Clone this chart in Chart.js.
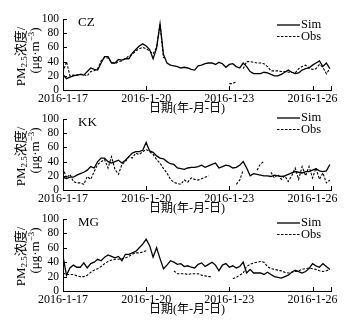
<!DOCTYPE html>
<html>
<head>
<meta charset="utf-8">
<script src="https://cdn.jsdelivr.net/npm/chart.js@4.4.1/dist/chart.umd.min.js"></script>
<style>
    html, body { margin: 0; padding: 0; background: #fff; }
    #wrap { position: relative; width: 348px; height: 322px; overflow: hidden; }
    .panel { position: absolute; left: 0; width: 348px; height: 122px; }
</style>
</head>
<body>
<div id="wrap">
    <div class="panel" style="top:0"><canvas id="chart0" width="348" height="122"></canvas></div>
    <div class="panel" style="top:100px"><canvas id="chart1" width="348" height="122"></canvas></div>
    <div class="panel" style="top:200px"><canvas id="chart2" width="348" height="122"></canvas></div>
</div>
<script>
// hours since 2016-1-17 00:00
const hours = [0, 3, 6, 9, 12, 15, 18, 21, 24, 27, 30, 33,
    36, 39, 42, 45, 48, 51, 54, 57, 60, 63, 66, 69,
    72, 75, 78, 81, 84, 87, 90, 93, 96, 99, 102, 105,
    108, 111, 114, 117, 120, 123, 126, 129, 132, 135, 138, 141,
    144, 147, 150, 153, 156, 159, 162, 165, 168, 171, 174, 177,
    180, 183, 186, 189, 192, 195, 198, 201, 204, 207, 210, 213,
    216, 219, 222, 225, 228, 231];

const tickHours = [0, 72, 144, 216];
const tickLabels = ['2016-1-17', '2016-1-20', '2016-1-23', '2016-1-26'];
const yTicks = [0, 20, 40, 60, 80, 100];
const stations = ['CZ', 'KK', 'MG'];
const seriesNames = ['Sim', 'Obs'];

const czSim = [22, 16, 18, 20, 21, 22, 21, 26, 31, 29, 28, 38,
    47, 47, 38, 38, 43, 42, 44, 44, 52, 57, 62, 65,
    62, 57, 44, 59, 93, 50, 38, 35, 34, 33, 31, 32,
    31, 29, 28, 34, 35, 37, 38, 38, 36, 39, 37, 32,
    36, 37, 33, 31, 38, 33, 26, 23, 23, 23, 25, 24,
    22, 20, 20, 22, 25, 28, 25, 23, 24, 28, 30, 31,
    35, 38, 41, 33, 38, 30];
const czObs = [25, 40, 20, 21, 21, 22, 22, 20, 26, 27, 30, 41,
    46, 45, 39, 37, 40, 41, 44, 48, 50, 55, 58, 60,
    58, 55, 51, 60, 93, 45, null, null, null, null, null, null,
    null, null, null, null, null, null, null, null, null, null, null, null,
    9, 9, 12, null, 30, 40, 40, 39, 38, 38, 37, 33,
    27, 27, 27, 26, 26, 25, 25, 24, 30, 33, 35, 31,
    29, 30, 36, 32, 23, 30];

const kkSim = [18, 16, 18, 18, 21, 23, 25, 28, 33, 31, 40, 45,
    45, 40, 38, 40, 42, 38, 42, 47, 52, 54, 54, 56,
    67, 55, 53, 48, 45, 44, 40, 37, 36, 31, 30, 29,
    31, 32, 32, 33, 35, 32, 34, 36, 38, 31, 33, 35,
    34, 31, 32, 35, 40, 31, 20, 23, 22, 21, 20, 20,
    19, 21, 20, 19, 20, 22, 24, 26, 25, 24, 26, 26,
    28, 30, 27, 26, 27, 36];
const kkObs = [31, 17, 22, 12, 10, 10, 8, 19, 15, 26, 36, 40,
    43, 31, 47, 29, 22, 36, 40, 47, 45, 52, 50, 54,
    57, 54, 50, 43, 38, 30, 24, 15, 11, 9, 8, 14,
    11, 17, 15, 14, 16, 18, 20, null, null, null, null, null,
    null, null, 8, 14, 28, null, null, null, 28, 37, 40, null,
    25, 17, 22, 15, 20, 12, 20, 31, 15, 33, 20, 33,
    17, 31, 15, 24, 10, 14];

const mgSim = [48, 22, 32, 36, 33, 33, 39, 32, 38, 40, 44, 42,
    47, 50, 48, 46, 48, 42, 51, 51, 53, 55, 60, 65,
    72, 63, 47, 60, 45, 31, 36, 42, 40, 37, 38, 34,
    35, 33, 32, 37, 39, 34, 37, 40, 36, 28, 36, 38,
    33, 35, 32, 34, 40, 25, 30, 25, 25, 25, 23, 26,
    23, 20, 19, 18, 20, 22, 26, 29, 27, 25, 27, 31,
    38, 35, 33, 38, 34, 30];
const mgObs = [25, 23, 23, 23, 21, 20, 20, 22, 26, 29, 31, 34,
    38, 41, 43, 44, 44, 45, 46, 48, 51, 53, 53, 54,
    56, null, null, null, null, null, null, null, 28, 24, 24, 24,
    23, 24, 24, 24, 22, 21, 20, 20, null, null, null, null,
    null, 17, 19, 22, 25, 34, 37, 39, 40, 41, 40, 34,
    31, 30, 29, 28, 26, 25, 26, 27, 28, 30, 31, 32,
    31, 30, 28, 27, 28, 30];

const simSeries = [czSim, kkSim, mgSim];
const obsSeries = [czObs, kkObs, mgObs];

const SERIF = "'Liberation Serif', 'Noto Sans CJK SC', serif";
const legendOffsets = [6, -1, 4];
const plotBottoms = [90, 90, 91];

function toPoints(values) {
    return hours.map((h, i) => ({ x: h, y: values[i] }));
}

// draws text pieces in a row, with sub/superscripts
function drawRich(ctx, parts, x, y, rotate) {
    ctx.save();
    ctx.translate(x, y);
    if (rotate) ctx.rotate(-Math.PI / 2);
    ctx.textBaseline = 'middle';
    ctx.textAlign = 'left';
    let total = 0;
    parts.forEach(p => {
        ctx.font = p.size + 'px ' + SERIF;
        p.w = ctx.measureText(p.t).width;
        total += p.w;
    });
    let cx = -total / 2;
    parts.forEach(p => {
        ctx.font = p.size + 'px ' + SERIF;
        ctx.fillText(p.t, cx, p.dy || 0);
        cx += p.w;
    });
    ctx.restore();
}

const decorPlugin = {
    id: 'decor',
    afterDraw(chart) {
        const ctx = chart.ctx;
        const area = chart.chartArea;
        const xs = chart.scales.x;
        const ys = chart.scales.y;
        const opts = chart.options.plugins.decor;

        ctx.save();
        ctx.strokeStyle = '#000';
        ctx.lineWidth = 1;
        // inward tick marks
        tickHours.concat([xs.max]).forEach(v => {
            const px = Math.round(xs.getPixelForValue(v)) + 0.5;
            ctx.beginPath();
            ctx.moveTo(px, area.bottom);
            ctx.lineTo(px, area.bottom - 4);
            ctx.stroke();
        });
        yTicks.forEach(v => {
            const py = Math.round(ys.getPixelForValue(v)) + 0.5;
            ctx.beginPath();
            ctx.moveTo(area.left, py);
            ctx.lineTo(area.left + 4, py);
            ctx.stroke();
        });

        ctx.fillStyle = '#000';
        // station name
        ctx.font = '13px ' + SERIF;
        ctx.textBaseline = 'middle';
        ctx.textAlign = 'left';
        ctx.fillText(opts.station, 78, area.top + 4);

        // legend
        chart.data.datasets.forEach((ds, i) => {
            const ly = area.top + opts.legendOffset + i * 11.5;
            ctx.save();
            ctx.lineWidth = ds.borderWidth;
            ctx.setLineDash(ds.borderDash || []);
            ctx.beginPath();
            ctx.moveTo(277, ly);
            ctx.lineTo(300, ly);
            ctx.stroke();
            ctx.restore();
            ctx.font = '12.5px ' + SERIF;
            ctx.fillText(ds.label, 301, ly);
        });

        // x axis title
        drawRich(ctx, [{ t: '日期(年-月-日)', size: 12 }], 187, area.bottom + 18.5, false);

        // y axis title
        drawRich(ctx, [
            { t: 'PM', size: 13 },
            { t: '2.5', size: 9, dy: 3 },
            { t: '浓度/', size: 13 }
        ], 22, area.top + 37.5, true);
        drawRich(ctx, [
            { t: '(μg·m', size: 13 },
            { t: '−3', size: 9, dy: -4 },
            { t: ')', size: 13 }
        ], 36, area.top + 31.5, true);
        ctx.restore();
    }
};

function buildChart(index) {
    const ctx = document.getElementById('chart' + index).getContext('2d');
    const plotBottom = plotBottoms[index];

    return new Chart(ctx, {
        type: 'line',
        data: {
            datasets: [
                {
                    label: seriesNames[0],
                    data: toPoints(simSeries[index]),
                    borderColor: '#000',
                    borderWidth: 1.3,
                    pointRadius: 0,
                    tension: 0,
                    fill: false
                },
                {
                    label: seriesNames[1],
                    data: toPoints(obsSeries[index]),
                    borderColor: '#000',
                    borderWidth: 1.1,
                    borderDash: [2.5, 1.5],
                    pointRadius: 0,
                    tension: 0,
                    fill: false
                }
            ]
        },
        options: {
            responsive: false,
            animation: false,
            devicePixelRatio: 1,
            layout: { padding: { left: 0, right: 17, top: 19, bottom: 0 } },
            scales: {
                x: {
                    type: 'linear',
                    min: 0,
                    max: 232,
                    grid: { display: false, drawTicks: false },
                    border: { display: true, color: '#000', width: 1 },
                    afterBuildTicks: (axis) => {
                        axis.ticks = tickHours.map(v => ({ value: v }));
                    },
                    afterFit: (axis) => { axis.height = 122 - plotBottom; },
                    ticks: {
                        autoSkip: false,
                        maxRotation: 0,
                        padding: 2,
                        color: '#000',
                        font: { family: SERIF, size: 12 },
                        callback: (value, i) => tickLabels[i]
                    }
                },
                y: {
                    min: 0,
                    max: 100,
                    grid: { display: false, drawTicks: false },
                    border: { display: true, color: '#000', width: 1 },
                    afterBuildTicks: (axis) => {
                        axis.ticks = yTicks.map(v => ({ value: v }));
                    },
                    afterFit: (axis) => { axis.width = 63; },
                    ticks: {
                        autoSkip: false,
                        padding: 4,
                        color: '#000',
                        font: { family: SERIF, size: 11.5 },
                        callback: (value) => String(value)
                    }
                }
            },
            plugins: {
                legend: { display: false },
                tooltip: { enabled: false },
                decor: { station: stations[index], legendOffset: legendOffsets[index] }
            }
        },
        plugins: [decorPlugin]
    });
}

stations.forEach((s, i) => buildChart(i));
</script>
</body>
</html>
